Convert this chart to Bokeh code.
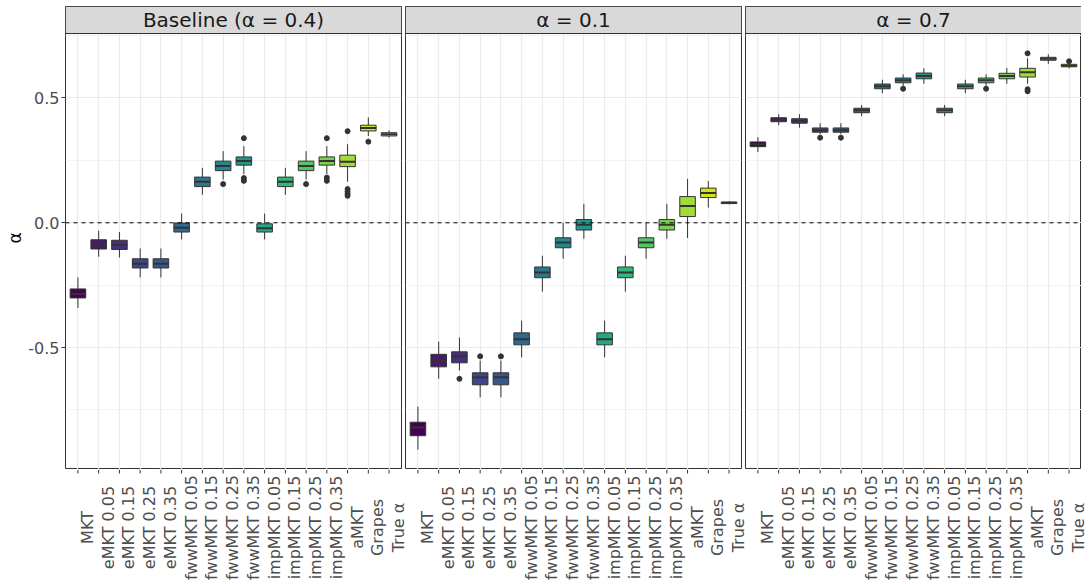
import math
from bokeh.plotting import figure
from bokeh.models import Range1d, FixedTicker, PrintfTickFormatter, Span
from bokeh.layouts import row, column
from bokeh.embed import file_html
from bokeh.resources import INLINE
from bokeh.core.properties import value

categories = ["MKT", "eMKT 0.05", "eMKT 0.15", "eMKT 0.25", "eMKT 0.35",
              "fwwMKT 0.05", "fwwMKT 0.15", "fwwMKT 0.25", "fwwMKT 0.35",
              "impMKT 0.05", "impMKT 0.15", "impMKT 0.25", "impMKT 0.35",
              "aMKT", "Grapes", "True α"]
panel_titles = ["Baseline (α = 0.4)", "α = 0.1", "α = 0.7"]
y_ticks = [-0.5, 0.0, 0.5]
y_minor = [-0.75, -0.25, 0.25, 0.75]
palette = ["#440154", "#481A6C", "#472F7D", "#414487", "#39568C", "#31688E",
           "#2A788E", "#23888E", "#1F988B", "#22A884", "#35B779", "#54C568",
           "#7AD151", "#A5DB36", "#D2E21B", "#FDE725"]

# Baseline (alpha = 0.4)
base_lo  = [-0.341, -0.136, -0.139, -0.219, -0.219, -0.067, 0.112, 0.173, 0.195, -0.067, 0.112, 0.173, 0.195, 0.165, 0.348, 0.341]
base_q1  = [-0.301, -0.105, -0.107, -0.181, -0.181, -0.037, 0.145, 0.209, 0.231, -0.037, 0.145, 0.209, 0.231, 0.225, 0.368, 0.348]
base_med = [-0.285, -0.087, -0.089, -0.164, -0.164, -0.020, 0.164, 0.228, 0.248, -0.022, 0.164, 0.228, 0.248, 0.245, 0.380, 0.355]
base_q3  = [-0.265, -0.068, -0.070, -0.144, -0.144, -0.001, 0.183, 0.247, 0.264, -0.004, 0.183, 0.247, 0.264, 0.271, 0.391, 0.361]
base_hi  = [-0.219, -0.032, -0.037, -0.103, -0.103, 0.037, 0.220, 0.287, 0.307, 0.037, 0.220, 0.287, 0.307, 0.315, 0.422, 0.370]
base_out_cat = ["fwwMKT 0.25", "fwwMKT 0.35", "fwwMKT 0.35", "fwwMKT 0.35",
                "impMKT 0.25", "impMKT 0.35", "impMKT 0.35", "impMKT 0.35",
                "aMKT", "aMKT", "aMKT", "aMKT", "aMKT", "Grapes"]
base_out_val = [0.155, 0.339, 0.179, 0.168, 0.155, 0.339, 0.181, 0.168,
                0.367, 0.135, 0.125, 0.116, 0.108, 0.325]

# alpha = 0.1
a01_lo  = [-0.909, -0.625, -0.592, -0.699, -0.699, -0.539, -0.276, -0.144, -0.064, -0.539, -0.276, -0.144, -0.064, -0.061, 0.061, 0.074]
a01_q1  = [-0.853, -0.577, -0.561, -0.649, -0.649, -0.489, -0.220, -0.100, -0.029, -0.489, -0.220, -0.100, -0.029, 0.025, 0.101, 0.077]
a01_med = [-0.820, -0.552, -0.535, -0.619, -0.619, -0.467, -0.199, -0.079, -0.008, -0.467, -0.199, -0.079, -0.008, 0.067, 0.119, 0.080]
a01_q3  = [-0.799, -0.527, -0.517, -0.601, -0.601, -0.441, -0.177, -0.060, 0.013, -0.441, -0.177, -0.060, 0.013, 0.105, 0.139, 0.083]
a01_hi  = [-0.736, -0.476, -0.460, -0.552, -0.552, -0.392, -0.132, 0.000, 0.076, -0.392, -0.132, 0.000, 0.076, 0.176, 0.167, 0.086]
a01_out_cat = ["eMKT 0.15", "eMKT 0.25", "eMKT 0.35"]
a01_out_val = [-0.625, -0.535, -0.535]

# alpha = 0.7
a07_lo  = [0.284, 0.391, 0.381, 0.355, 0.355, 0.427, 0.519, 0.548, 0.557, 0.427, 0.519, 0.548, 0.557, 0.557, 0.637, 0.619]
a07_q1  = [0.305, 0.405, 0.399, 0.363, 0.363, 0.441, 0.537, 0.561, 0.577, 0.441, 0.537, 0.561, 0.577, 0.584, 0.651, 0.625]
a07_med = [0.315, 0.413, 0.408, 0.371, 0.371, 0.451, 0.547, 0.571, 0.588, 0.451, 0.547, 0.571, 0.588, 0.603, 0.657, 0.629]
a07_q3  = [0.324, 0.421, 0.417, 0.380, 0.380, 0.459, 0.556, 0.580, 0.600, 0.459, 0.556, 0.580, 0.599, 0.619, 0.663, 0.635]
a07_hi  = [0.343, 0.435, 0.435, 0.399, 0.399, 0.472, 0.573, 0.595, 0.619, 0.472, 0.573, 0.595, 0.620, 0.659, 0.675, 0.642]
a07_out_cat = ["eMKT 0.25", "eMKT 0.35", "fwwMKT 0.25", "impMKT 0.25", "aMKT", "aMKT", "aMKT", "True α"]
a07_out_val = [0.341, 0.341, 0.537, 0.537, 0.679, 0.535, 0.527, 0.647]

panels = [
    (panel_titles[0], base_lo, base_q1, base_med, base_q3, base_hi, base_out_cat, base_out_val),
    (panel_titles[1], a01_lo, a01_q1, a01_med, a01_q3, a01_hi, a01_out_cat, a01_out_val),
    (panel_titles[2], a07_lo, a07_q1, a07_med, a07_q3, a07_hi, a07_out_cat, a07_out_val),
]

# shared y limits (ggplot-like 5% expansion)
all_vals = []
for pn in panels:
    all_vals += pn[1] + pn[5] + pn[7]
dmin, dmax = min(all_vals), max(all_vals)
pad = 0.05 * (dmax - dmin)
y_lo, y_hi = dmin - pad, dmax + pad

FONT = "DejaVu Sans"
TOP_PX = 6
STRIP_PX = 27
PANEL_PX = 436
FRAME_W = 336
GAP = 4
LEFT_PX = 65
PAGE_W = 1088
LABEL_PX = 116
LABEL_CENTER = 58   # px below panel bottom
LABEL_SHIFT = 4     # label strip boundary offset into next panel
TICK_LEN = 4
y_top = y_hi + (y_hi - y_lo) * STRIP_PX / PANEL_PX

n = len(categories)
xs = list(range(1, n + 1))
idx = {c: i + 1 for i, c in enumerate(categories)}
BOX_W = 0.75
x_start, x_end = 0.4, n + 0.6
px_per_unit = FRAME_W / (x_end - x_start)
n_pan = len(panels)
panel_left = [LEFT_PX + k * (FRAME_W + GAP) for k in range(n_pan)]
label_bounds = [LEFT_PX] + [panel_left[k] + LABEL_SHIFT for k in range(1, n_pan)] + [PAGE_W]


def make_panel(k, title, lo, q1, med, q3, hi, out_cat, out_val):
    first = k == 0
    last = k == n_pan - 1
    p = figure(frame_width=FRAME_W, frame_height=STRIP_PX + PANEL_PX,
               x_range=Range1d(x_start, x_end), y_range=Range1d(y_lo, y_top),
               output_backend="svg", toolbar_location=None,
               x_axis_location=None,
               y_axis_location="left" if first else None,
               min_border_left=LEFT_PX if first else 0,
               min_border_right=0 if last else GAP,
               min_border_top=TOP_PX, min_border_bottom=0,
               background_fill_color="white", border_fill_color="white")
    p.outline_line_color = "#333333"
    p.outline_line_width = 1

    p.xgrid.ticker = FixedTicker(ticks=xs)
    p.xgrid.grid_line_color = "#EBEBEB"
    p.xgrid.grid_line_width = 1.2
    p.ygrid.ticker = FixedTicker(ticks=y_ticks, minor_ticks=y_minor)
    p.ygrid.grid_line_color = "#EBEBEB"
    p.ygrid.grid_line_width = 1.2
    p.ygrid.minor_grid_line_color = "#F2F2F2"
    p.ygrid.minor_grid_line_width = 1

    if first:
        ya = p.yaxis[0]
        ya.ticker = FixedTicker(ticks=y_ticks)
        ya.formatter = PrintfTickFormatter(format="%.1f")
        ya.axis_line_color = None
        ya.major_tick_out = 4
        ya.major_tick_in = 0
        ya.major_tick_line_color = "#333333"
        ya.minor_tick_line_color = None
        ya.major_label_text_font = FONT
        ya.major_label_text_font_size = "16px"
        ya.major_label_text_color = "#4D4D4D"
        ya.major_label_standoff = 2
        ya.axis_label = "α"
        ya.axis_label_text_font = FONT
        ya.axis_label_text_font_size = "17px"
        ya.axis_label_text_font_style = "normal"
        ya.axis_label_text_color = "black"
        ya.axis_label_standoff = 0

    # boxplots
    p.segment(x0=xs, y0=lo, x1=xs, y1=hi, line_color="#333333", line_width=1)
    p.vbar(x=xs, width=BOX_W, bottom=q1, top=q3, fill_color=palette,
           line_color="#333333", line_width=1)
    p.segment(x0=[x - BOX_W / 2 for x in xs], y0=med, x1=[x + BOX_W / 2 for x in xs], y1=med,
              line_color="#333333", line_width=2)
    p.scatter(x=[idx[c] for c in out_cat], y=out_val, size=5,
              fill_color="#333333", line_color="#333333")

    p.add_layout(Span(location=0, dimension="width", line_color="black",
                      line_dash="4 4", line_width=1))

    # strip
    p.quad(left=[x_start], right=[x_end], bottom=[y_hi], top=[y_top],
           fill_color="#D9D9D9", line_color="#333333", line_width=1)
    p.text(x=[(n + 1) / 2], y=[(y_hi + y_top) / 2], text=[title],
           text_align="center", text_baseline="middle",
           text_font=value(FONT), text_font_size="20px", text_color="#1A1A1A")
    return p


def make_labels(k):
    first = k == 0
    b0, b1 = label_bounds[k], label_bounds[k + 1]
    fw = b1 - b0
    xr0 = x_start + (b0 - panel_left[k]) / px_per_unit
    xr1 = x_start + (b1 - panel_left[k]) / px_per_unit
    p = figure(frame_width=fw, frame_height=LABEL_PX,
               x_range=Range1d(xr0, xr1), y_range=Range1d(0, LABEL_PX),
               output_backend="svg", toolbar_location=None,
               x_axis_location=None, y_axis_location=None,
               min_border_left=LEFT_PX if first else 0, min_border_right=0,
               min_border_top=0, min_border_bottom=0,
               background_fill_color="white", border_fill_color="white")
    p.outline_line_color = None
    p.xgrid.visible = False
    p.ygrid.visible = False
    # axis tick marks
    p.segment(x0=xs, y0=[LABEL_PX] * n, x1=xs, y1=[LABEL_PX - TICK_LEN] * n,
              line_color="#333333", line_width=1)
    # rotated, centred category labels
    p.text(x=xs, y=[LABEL_PX - LABEL_CENTER] * n, text=categories,
           angle=math.pi / 2, text_align="center", text_baseline="top",
           text_font=value(FONT), text_font_size="16px", text_color="#4D4D4D")
    return p


figs = [make_panel(k, *pn) for k, pn in enumerate(panels)]
labs = [make_labels(k) for k in range(n_pan)]
layout = column(row(*figs), row(*labs))
open("out.html", "w").write(file_html(layout, INLINE))
